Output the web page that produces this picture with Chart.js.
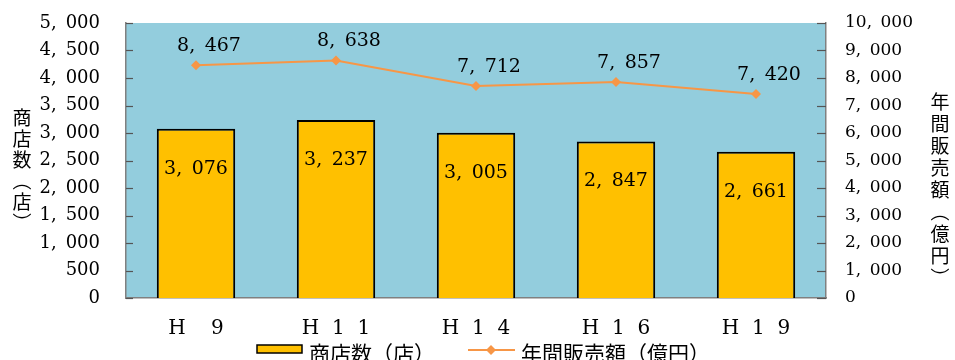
<!DOCTYPE html>
<html lang="ja">
<head>
    <meta charset="UTF-8">
    <title>商店数と年間販売額</title>
    <script src="https://cdn.jsdelivr.net/npm/chart.js"></script>
    <style>
        html, body { margin: 0; padding: 0; background: #fff; }
        #wrap { width: 955px; height: 360px; }
    </style>
</head>
<body>
    <div id="wrap"><canvas id="shopChart"></canvas></div>

    <script>
        // データ
        const years = ['H    9', 'H  1  1', 'H  1  4', 'H  1  6', 'H  1  9'];
        const shopCounts = [3076, 3237, 3005, 2847, 2661];
        const salesOku = [8467, 8638, 7712, 7857, 7420];
        const shopTicks = [0, 500, 1000, 1500, 2000, 2500, 3000, 3500, 4000, 4500, 5000];
        const salesTicks = [0, 1000, 2000, 3000, 4000, 5000, 6000, 7000, 8000, 9000, 10000];
        const leftTitle = '商店数︵店︶';
        const rightTitle = '年間販売額︵億円︶';
        const barLabel = '商店数（店）';
        const lineLabel = '年間販売額（億円）';

        const numFont = '"DejaVu Serif", "Liberation Serif", serif';
        const cjkFont = '"Noto Sans CJK JP", sans-serif';

        function fmt(v) {
            const s = String(v);
            if (s.length <= 3) return s;
            return s.slice(0, -3) + ',\u2002' + s.slice(-3);
        }

        // 軸の余白を固定する
        function fixVertical(w) {
            return s => { s.width = w; s.paddingTop = 0; s.paddingBottom = 0; };
        }

        const decor = {
            id: 'decor',
            beforeDraw(chart) {
                const { ctx, chartArea: a } = chart;
                ctx.save();
                ctx.fillStyle = '#93CDDD';
                ctx.fillRect(a.left, a.top, a.right - a.left, a.bottom - a.top);
                ctx.restore();
            },
            afterDatasetsDraw(chart) {
                const { ctx, chartArea: a } = chart;
                ctx.save();

                // 内向きの目盛り
                ctx.strokeStyle = '#555';
                ctx.lineWidth = 1.2;
                const ys = chart.scales.y, y1 = chart.scales.y1;
                shopTicks.forEach(t => {
                    const p = Math.round(ys.getPixelForValue(t)) + 0.5;
                    ctx.beginPath(); ctx.moveTo(a.left, p); ctx.lineTo(a.left + 7, p); ctx.stroke();
                });
                salesTicks.forEach(t => {
                    const p = Math.round(y1.getPixelForValue(t)) + 0.5;
                    ctx.beginPath(); ctx.moveTo(a.right - 9, p); ctx.lineTo(a.right, p); ctx.stroke();
                });

                // データラベル
                ctx.fillStyle = '#000';
                ctx.textAlign = 'center';
                ctx.textBaseline = 'middle';
                ctx.font = '19px ' + numFont;
                chart.getDatasetMeta(1).data.forEach((el, i) => {
                    ctx.fillText(fmt(shopCounts[i]), el.x, el.y + 40);
                });
                chart.getDatasetMeta(0).data.forEach((el, i) => {
                    ctx.fillText(fmt(salesOku[i]), el.x + 13, el.y - 19);
                });

                // 縦書きの軸タイトル
                ctx.font = '19px ' + cjkFont;
                [...leftTitle].forEach((ch, i) => {
                    ctx.fillText(ch, 22, 118 + i * 21);
                });
                [...rightTitle].forEach((ch, i) => {
                    ctx.fillText(ch, 940, 102 + i * 22);
                });

                // 凡例
                ctx.fillStyle = '#FFC000';
                ctx.strokeStyle = '#000';
                ctx.lineWidth = 1.5;
                ctx.fillRect(257, 345, 45, 8);
                ctx.strokeRect(257, 345, 45, 8);
                ctx.strokeStyle = '#F79646';
                ctx.lineWidth = 2;
                ctx.beginPath(); ctx.moveTo(468, 350); ctx.lineTo(515, 350); ctx.stroke();
                ctx.fillStyle = '#F79646';
                ctx.beginPath();
                ctx.moveTo(491, 345); ctx.lineTo(496, 350); ctx.lineTo(491, 355); ctx.lineTo(486, 350);
                ctx.closePath(); ctx.fill();
                ctx.fillStyle = '#000';
                ctx.textAlign = 'left';
                ctx.font = '21px ' + cjkFont;
                ctx.fillText(barLabel, 309, 353);
                ctx.fillText(lineLabel, 521, 353);
                ctx.restore();
            }
        };

        const ctx = document.getElementById('shopChart').getContext('2d');
        new Chart(ctx, {
            data: {
                labels: years,
                datasets: [{
                    type: 'line',
                    label: lineLabel,
                    data: salesOku,
                    yAxisID: 'y1',
                    borderColor: '#F79646',
                    backgroundColor: '#F79646',
                    borderWidth: 2,
                    pointStyle: 'rectRot',
                    pointRadius: 5,
                    pointBorderWidth: 0,
                    tension: 0,
                    order: 0
                }, {
                    type: 'bar',
                    label: barLabel,
                    data: shopCounts,
                    yAxisID: 'y',
                    backgroundColor: '#FFC000',
                    borderColor: '#000',
                    borderWidth: 2,
                    barPercentage: 0.56,
                    categoryPercentage: 1,
                    order: 1
                }]
            },
            options: {
                responsive: true,
                maintainAspectRatio: false,
                animation: false,
                layout: { padding: { top: 23, left: 0, right: 0, bottom: 0 } },
                plugins: {
                    legend: { display: false },
                    tooltip: { enabled: false }
                },
                scales: {
                    x: {
                        offset: true,
                        grid: { display: false },
                        border: { display: true, color: '#808080', width: 1.5 },
                        ticks: {
                            color: '#000',
                            padding: 11,
                            maxRotation: 0,
                            font: { family: numFont, size: 20 }
                        },
                        afterFit(s) { s.height = 62; s.paddingLeft = 0; s.paddingRight = 0; }
                    },
                    y: {
                        position: 'left',
                        min: 0, max: 5000,
                        grid: { display: false, drawTicks: false },
                        border: { display: true, color: '#808080', width: 1.5 },
                        ticks: {
                            stepSize: 500,
                            color: '#000',
                            padding: 26,
                            font: { family: numFont, size: 18 },
                            callback: v => fmt(v)
                        },
                        afterFit: fixVertical(126)
                    },
                    y1: {
                        position: 'right',
                        min: 0, max: 10000,
                        grid: { display: false, drawTicks: false },
                        border: { display: true, color: '#808080', width: 1.5 },
                        ticks: {
                            stepSize: 1000,
                            color: '#000',
                            padding: 19,
                            font: { family: numFont, size: 17 },
                            callback: v => fmt(v)
                        },
                        afterFit: fixVertical(129)
                    }
                }
            },
            plugins: [decor]
        });
    </script>
</body>
</html>
